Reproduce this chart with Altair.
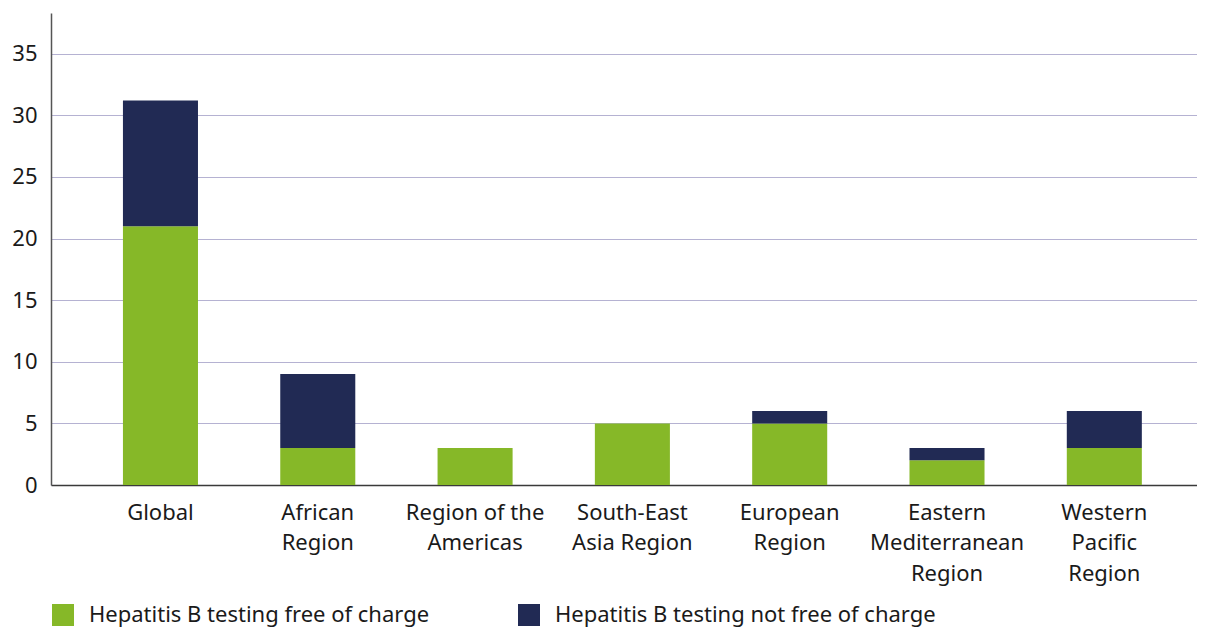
import altair as alt
import pandas as pd

# Categories (| marks a line break in the axis label)
regions = [
    "Global",
    "African|Region",
    "Region of the|Americas",
    "South-East|Asia Region",
    "European|Region",
    "Eastern|Mediterranean|Region",
    "Western|Pacific|Region",
]
series = [
    "Hepatitis B testing free of charge",
    "Hepatitis B testing not free of charge",
]
free_of_charge = [21, 3, 3, 5, 5, 2, 3]
not_free_of_charge = [10.2, 6, 0, 0, 1, 1, 3]
y_ticks = [0, 5, 10, 15, 20, 25, 30, 35]
colors = ["#86b828", "#212a54"]

rows = []
for r, a, b in zip(regions, free_of_charge, not_free_of_charge):
    rows.append({"region": r, "series": series[0], "value": a, "order": 0})
    rows.append({"region": r, "series": series[1], "value": b, "order": 1})
df = pd.DataFrame(rows)

FONT = "Noto Sans"

chart = (
    alt.Chart(df)
    .mark_bar()
    .encode(
        x=alt.X(
            "region:N",
            sort=regions,
            scale=alt.Scale(paddingInner=0.523, paddingOuter=0.404, align=0.566),
            axis=alt.Axis(
                title=None,
                labelExpr="split(datum.label, '|')",
                labelAngle=0,
                ticks=False,
                labelPadding=17,
                labelFontSize=22,
                labelLineHeight=30.5,
                labelBaseline="top",
                labelFont=FONT,
                labelColor="#1a1a1a",
                domainColor="#3a3a3a",
                domainWidth=1.5,
                labelLimit=0,
            ),
        ),
        y=alt.Y(
            "value:Q",
            stack="zero",
            scale=alt.Scale(domain=[0, 38.3], nice=False),
            axis=alt.Axis(
                title=None,
                values=y_ticks,
                ticks=False,
                labelPadding=14,
                labelFontSize=22,
                labelFont=FONT,
                labelColor="#1a1a1a",
                gridColor="#b5b2d2",
                gridWidth=1,
                domainColor="#555555",
                domainWidth=1.5,
            ),
        ),
        color=alt.Color(
            "series:N",
            scale=alt.Scale(domain=series, range=colors),
            legend=alt.Legend(
                title=None,
                orient="none",
                legendX=1,
                legendY=591,
                direction="horizontal",
                columns=2,
                columnPadding=88,
                symbolType="square",
                symbolSize=484,
                symbolStrokeWidth=0,
                symbolOpacity=1,
                labelFontSize=22,
                labelFont=FONT,
                labelColor="#1a1a1a",
                labelOffset=15,
                labelLimit=0,
            ),
        ),
        order=alt.Order("order:Q"),
    )
    .properties(
        width=1146,
        height=472,
        autosize=alt.AutoSizeParams(type="none"),
        padding={"left": 43, "top": 5, "right": 0, "bottom": 146},
    )
    .configure_view(stroke=None)
)

chart.save("out.html", embed_options={"renderer": "svg", "actions": False})
